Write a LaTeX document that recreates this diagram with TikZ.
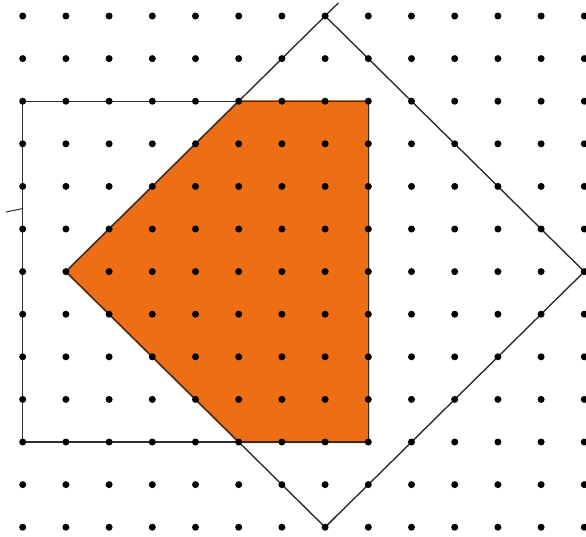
\documentclass[tikz,border=0pt]{standalone}
\usetikzlibrary{calc}
\definecolor{crayon}{RGB}{238,110,22}
\definecolor{pen}{RGB}{50,45,45}
\tikzset{
  pencil/.style={draw=pen, line width=1.4pt, line cap=round},
  griddot/.style={fill=black},
  shade/.style={fill=crayon, draw=crayon, line width=2pt, line join=round}
}
\begin{document}
\begin{tikzpicture}[x=1pt,y=-1pt]
\fill[white] (0,0) rectangle (586,536);
\useasboundingbox (0,0) rectangle (586,536);
\begin{scope}[shift={(22.7,16)}, x=43.2pt, y=-42.6pt]
  % square corners
  \coordinate (A) at (0,2);
  \coordinate (B) at (8,2);
  \coordinate (C) at (8,10);
  \coordinate (D) at (0,10);
  % rotated square corners
  \coordinate (T) at (7,0);
  \coordinate (R) at (13,6);
  \coordinate (Bt) at (7,12);
  \coordinate (L) at (1,6);
  % overlap points
  \coordinate (P) at (5,2);
  \coordinate (Q) at (5,10);
  % shaded overlap
  \path[shade] (P) -- (B) -- (C) -- (Q) -- (L) -- cycle;
  % axis-aligned square
  \draw[pencil] (A) -- (B) -- (C) -- (D) -- (A);
  \draw[pencil] (D) -- ++(0,-0.25);
  % rotated square
  \coordinate (Tx) at ($(T)+(0.3,-0.3)$);
  \draw[pencil] (L) -- (Tx);
  \draw[pencil] (T) -- (R) -- (Bt) -- (L);
  \draw[pencil] (Bt) -- ++(0.25,-0.25);
  % small stroke at left
  \coordinate (S1) at (-0.38,4.6);
  \coordinate (S2) at (0,4.52);
  \draw[pencil, line width=1pt] (S1) -- (S2);
  % dots
  \foreach \i in {0,...,13}
    \foreach \j in {0,...,12}
      \fill[griddot] (\i,\j) circle[radius=3.5pt];
\end{scope}
\end{tikzpicture}
\end{document}
